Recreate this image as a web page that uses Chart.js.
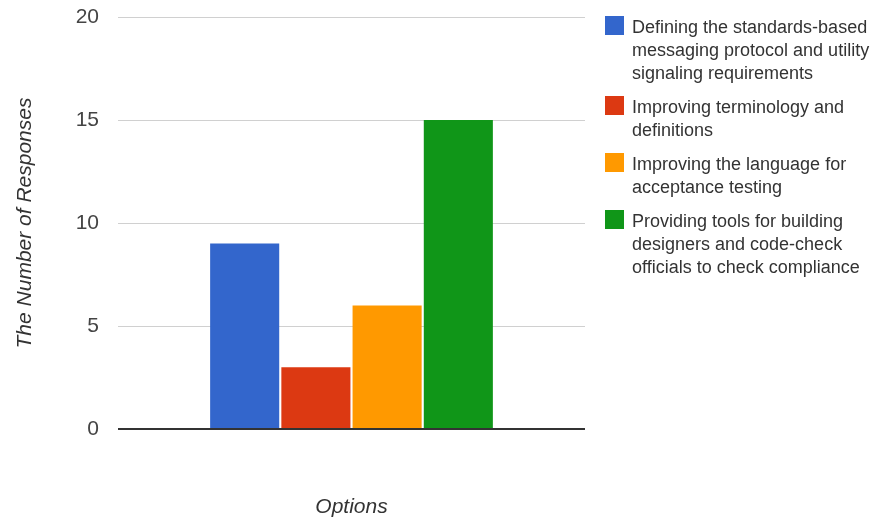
<!DOCTYPE html>
<html>
<head>
<meta charset="utf-8">
<script src="https://cdn.jsdelivr.net/npm/chart.js@4/dist/chart.umd.min.js"></script>
<style>
  html, body { margin: 0; padding: 0; background: #fff; }
  #wrap { position: relative; width: 879px; height: 522px; }
  #legend { position: absolute; left: 605px; top: 16px; width: 274px;
    font-family: "Liberation Sans", Arial, sans-serif; font-size: 18px; color: #333; }
  .item { display: flex; align-items: flex-start; margin-bottom: 11px; }
  .sw { width: 19px; height: 19px; flex: none; margin-right: 8px; margin-top: 0px; }
  .txt { line-height: 23px; width: 242px; }
</style>
</head>
<body>
<div id="wrap">
  <canvas id="c" width="879" height="522"></canvas>
  <div id="legend"></div>
</div>
<script>
// Survey: which improvement matters most
const categories = [''];
const seriesNames = [
  'Defining the standards-based messaging protocol and utility signaling requirements',
  'Improving terminology and definitions',
  'Improving the language for acceptance testing',
  'Providing tools for building designers and code-check officials to check compliance'
];
const seriesValues = [9, 3, 6, 15];
const seriesColors = ['#3366cc', '#dc3912', '#ff9900', '#109618'];
const yTicks = [0, 5, 10, 15, 20];

const font = "'Liberation Sans', Arial, sans-serif";

const datasets = seriesNames.map((name, i) => ({
  label: name,
  data: [seriesValues[i]],
  backgroundColor: seriesColors[i],
  borderWidth: 0,
  barPercentage: 0.97,
  categoryPercentage: 0.61
}));

new Chart(document.getElementById('c'), {
  type: 'bar',
  data: { labels: categories, datasets },
  options: {
    responsive: false,
    animation: false,
    layout: { padding: { top: 0, right: 294, bottom: 0, left: 0 } },
    plugins: { legend: { display: false }, tooltip: { enabled: false } },
    scales: {
      x: {
        grid: { display: false },
        border: { display: false },
        ticks: { display: false },
        title: {
          display: true, text: 'Options', color: '#333',
          font: { family: font, size: 21, style: 'italic' },
          padding: { top: 0, bottom: 2 }
        },
        afterFit: s => { s.height = 93; }
      },
      y: {
        min: 0, max: 20,
        afterBuildTicks: s => { s.ticks = yTicks.map(v => ({ value: v })); },
        grid: {
          drawTicks: false,
          color: c => c.tick && c.tick.value === 0 ? '#333' : '#d0d0d0',
          lineWidth: c => c.tick && c.tick.value === 0 ? 2 : 1
        },
        border: { display: false },
        ticks: {
          padding: 19, color: '#444',
          font: { family: font, size: 21 }
        },
        title: {
          display: true, text: 'The Number of Responses', color: '#333',
          font: { family: font, size: 21, style: 'italic' },
          padding: { top: 13, bottom: 0 }
        },
        afterFit: s => { s.width = 118; s.paddingTop = 17; s.paddingBottom = 0; }
      }
    }
  }
});

// Legend with wrapped series names
const legend = document.getElementById('legend');
seriesNames.forEach((name, i) => {
  const item = document.createElement('div');
  item.className = 'item';
  const sw = document.createElement('div');
  sw.className = 'sw';
  sw.style.background = seriesColors[i];
  const txt = document.createElement('div');
  txt.className = 'txt';
  txt.textContent = name;
  item.appendChild(sw);
  item.appendChild(txt);
  legend.appendChild(item);
});
</script>
</body>
</html>
